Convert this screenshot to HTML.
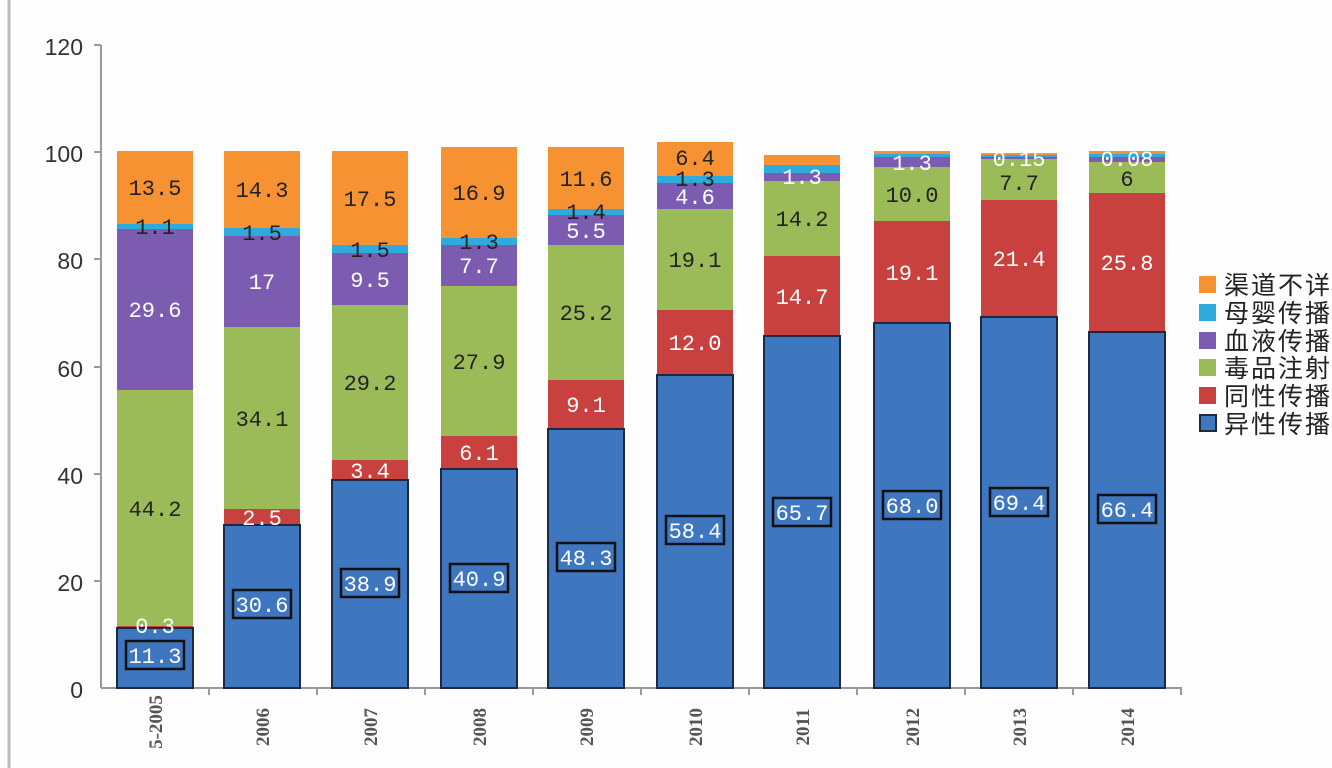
<!DOCTYPE html><html><head><meta charset="utf-8"><style>body{margin:0;background:#fff}svg{display:block}</style></head><body>
<svg width="1332" height="768" xmlns="http://www.w3.org/2000/svg" font-family="'Liberation Mono','Noto Sans CJK SC',monospace">
<rect width="1332" height="768" fill="#fdfdfd"/>
<line x1="9" y1="0" x2="9" y2="768" stroke="#bbb" stroke-width="3"/>
<g font-family="'Liberation Sans',sans-serif" font-size="23" fill="#333" text-anchor="end">
<text x="83" y="55">120</text><text x="83" y="162">100</text><text x="83" y="269">80</text><text x="83" y="377">60</text><text x="83" y="484">40</text><text x="83" y="591">20</text><text x="83" y="698">0</text>
</g>
<g stroke="#999" stroke-width="2">
<line x1="101" y1="45" x2="101" y2="688"/>
<line x1="94" y1="45" x2="101" y2="45"/><line x1="94" y1="152" x2="101" y2="152"/><line x1="94" y1="259" x2="101" y2="259"/><line x1="94" y1="367" x2="101" y2="367"/><line x1="94" y1="474" x2="101" y2="474"/><line x1="94" y1="581" x2="101" y2="581"/>
<line x1="101" y1="688" x2="1182" y2="688"/>
<line x1="209" y1="688" x2="209" y2="695"/><line x1="317" y1="688" x2="317" y2="695"/><line x1="425" y1="688" x2="425" y2="695"/><line x1="533" y1="688" x2="533" y2="695"/><line x1="641" y1="688" x2="641" y2="695"/><line x1="749" y1="688" x2="749" y2="695"/><line x1="857" y1="688" x2="857" y2="695"/><line x1="965" y1="688" x2="965" y2="695"/><line x1="1073" y1="688" x2="1073" y2="695"/><line x1="1181" y1="688" x2="1181" y2="695"/>
</g>
<g>
<rect x="117" y="151" width="76" height="73" fill="#f79232"/><rect x="117" y="224" width="76" height="5" fill="#2eaadc"/><rect x="117" y="229" width="76" height="161" fill="#7b5cb0"/><rect x="117" y="390" width="76" height="236" fill="#9bbb59"/><rect x="117" y="626" width="76" height="2" fill="#c9413e"/><rect x="117" y="628" width="76" height="60" fill="#3f76c0" stroke="#1b2a40" stroke-width="2"/>
<rect x="224" y="151" width="76" height="77" fill="#f79232"/><rect x="224" y="228" width="76" height="8" fill="#2eaadc"/><rect x="224" y="236" width="76" height="91" fill="#7b5cb0"/><rect x="224" y="327" width="76" height="182" fill="#9bbb59"/><rect x="224" y="509" width="76" height="16" fill="#c9413e"/><rect x="224" y="525" width="76" height="163" fill="#3f76c0" stroke="#1b2a40" stroke-width="2"/>
<rect x="332" y="151" width="76" height="94" fill="#f79232"/><rect x="332" y="245" width="76" height="8" fill="#2eaadc"/><rect x="332" y="253" width="76" height="52" fill="#7b5cb0"/><rect x="332" y="305" width="76" height="155" fill="#9bbb59"/><rect x="332" y="460" width="76" height="20" fill="#c9413e"/><rect x="332" y="480" width="76" height="208" fill="#3f76c0" stroke="#1b2a40" stroke-width="2"/>
<rect x="441" y="147" width="76" height="91" fill="#f79232"/><rect x="441" y="238" width="76" height="7" fill="#2eaadc"/><rect x="441" y="245" width="76" height="41" fill="#7b5cb0"/><rect x="441" y="286" width="76" height="150" fill="#9bbb59"/><rect x="441" y="436" width="76" height="33" fill="#c9413e"/><rect x="441" y="469" width="76" height="219" fill="#3f76c0" stroke="#1b2a40" stroke-width="2"/>
<rect x="548" y="147" width="76" height="62" fill="#f79232"/><rect x="548" y="209" width="76" height="6" fill="#2eaadc"/><rect x="548" y="215" width="76" height="30" fill="#7b5cb0"/><rect x="548" y="245" width="76" height="135" fill="#9bbb59"/><rect x="548" y="380" width="76" height="49" fill="#c9413e"/><rect x="548" y="429" width="76" height="259" fill="#3f76c0" stroke="#1b2a40" stroke-width="2"/>
<rect x="657" y="142" width="76" height="34" fill="#f79232"/><rect x="657" y="176" width="76" height="7" fill="#2eaadc"/><rect x="657" y="183" width="76" height="26" fill="#7b5cb0"/><rect x="657" y="209" width="76" height="101" fill="#9bbb59"/><rect x="657" y="310" width="76" height="65" fill="#c9413e"/><rect x="657" y="375" width="76" height="313" fill="#3f76c0" stroke="#1b2a40" stroke-width="2"/>
<rect x="764" y="155" width="76" height="10" fill="#f79232"/><rect x="764" y="165" width="76" height="8" fill="#2eaadc"/><rect x="764" y="173" width="76" height="8" fill="#7b5cb0"/><rect x="764" y="181" width="76" height="75" fill="#9bbb59"/><rect x="764" y="256" width="76" height="80" fill="#c9413e"/><rect x="764" y="336" width="76" height="352" fill="#3f76c0" stroke="#1b2a40" stroke-width="2"/>
<rect x="874" y="151" width="76" height="3" fill="#f79232"/><rect x="874" y="154" width="76" height="3" fill="#2eaadc"/><rect x="874" y="157" width="76" height="10" fill="#7b5cb0"/><rect x="874" y="167" width="76" height="54" fill="#9bbb59"/><rect x="874" y="221" width="76" height="102" fill="#c9413e"/><rect x="874" y="323" width="76" height="365" fill="#3f76c0" stroke="#1b2a40" stroke-width="2"/>
<rect x="981" y="153" width="76" height="2" fill="#f79232"/><rect x="981" y="155" width="76" height="2" fill="#2eaadc"/><rect x="981" y="157" width="76" height="2" fill="#7b5cb0"/><rect x="981" y="159" width="76" height="41" fill="#9bbb59"/><rect x="981" y="200" width="76" height="117" fill="#c9413e"/><rect x="981" y="317" width="76" height="371" fill="#3f76c0" stroke="#1b2a40" stroke-width="2"/>
<rect x="1089" y="151" width="76" height="3" fill="#f79232"/><rect x="1089" y="154" width="76" height="3" fill="#2eaadc"/><rect x="1089" y="157" width="76" height="5" fill="#7b5cb0"/><rect x="1089" y="162" width="76" height="31" fill="#9bbb59"/><rect x="1089" y="193" width="76" height="139" fill="#c9413e"/><rect x="1089" y="332" width="76" height="356" fill="#3f76c0" stroke="#1b2a40" stroke-width="2"/>
</g>
<g fill="none" stroke="#111" stroke-width="2.5">
<rect x="126" y="641" width="58" height="28"/><rect x="233" y="590" width="58" height="28"/><rect x="341" y="569" width="58" height="28"/><rect x="450" y="564" width="58" height="28"/><rect x="557" y="543" width="58" height="28"/><rect x="666" y="516" width="58" height="28"/><rect x="773" y="498" width="58" height="28"/><rect x="883" y="491" width="58" height="28"/><rect x="990" y="488" width="58" height="28"/><rect x="1098" y="495" width="58" height="28"/>
</g>
<g font-size="22" text-anchor="middle" fill="#fff">
<text x="155" y="663">11.3</text><text x="262" y="612">30.6</text><text x="370" y="591">38.9</text><text x="479" y="586">40.9</text><text x="586" y="565">48.3</text><text x="695" y="538">58.4</text><text x="802" y="520">65.7</text><text x="912" y="513">68.0</text><text x="1019" y="510">69.4</text><text x="1127" y="517">66.4</text>
<text x="155" y="633">0.3</text><text x="262" y="525">2.5</text><text x="370" y="478">3.4</text><text x="479" y="460">6.1</text><text x="586" y="412">9.1</text><text x="695" y="350">12.0</text><text x="802" y="304">14.7</text><text x="912" y="280">19.1</text><text x="1019" y="266">21.4</text><text x="1127" y="270">25.8</text>
<text x="155" y="317">29.6</text><text x="262" y="289">17</text><text x="370" y="287">9.5</text><text x="479" y="273">7.7</text><text x="586" y="238">5.5</text><text x="695" y="204">4.6</text>
<text x="802" y="184">1.3</text><text x="912" y="170">1.3</text><text x="1019" y="166">0.15</text><text x="1127" y="166">0.08</text>
</g>
<g font-size="22" text-anchor="middle" fill="#222">
<text x="155" y="516">44.2</text><text x="262" y="426">34.1</text><text x="370" y="390">29.2</text><text x="479" y="369">27.9</text><text x="586" y="320">25.2</text><text x="695" y="267">19.1</text><text x="802" y="226">14.2</text><text x="912" y="202">10.0</text><text x="1019" y="190">7.7</text><text x="1127" y="186">6</text>
<text x="155" y="234">1.1</text><text x="262" y="240">1.5</text><text x="370" y="257">1.5</text><text x="479" y="249">1.3</text><text x="586" y="219">1.4</text><text x="695" y="186">1.3</text>
<text x="155" y="195">13.5</text><text x="262" y="197">14.3</text><text x="370" y="206">17.5</text><text x="479" y="200">16.9</text><text x="586" y="186">11.6</text><text x="695" y="165">6.4</text>
</g>
<g font-family="'Liberation Serif',serif" font-size="19" font-weight="bold" fill="#555" text-anchor="middle">
<text transform="translate(162,722) rotate(-90)">5-2005</text>
<text transform="translate(269,727) rotate(-90)">2006</text>
<text transform="translate(377,727) rotate(-90)">2007</text>
<text transform="translate(486,727) rotate(-90)">2008</text>
<text transform="translate(593,727) rotate(-90)">2009</text>
<text transform="translate(702,727) rotate(-90)">2010</text>
<text transform="translate(809,727) rotate(-90)">2011</text>
<text transform="translate(919,727) rotate(-90)">2012</text>
<text transform="translate(1026,727) rotate(-90)">2013</text>
<text transform="translate(1134,727) rotate(-90)">2014</text>
</g>
<g font-family="'Liberation Sans','Noto Sans CJK SC',sans-serif" font-size="25" fill="#222" letter-spacing="2">
<rect x="1199" y="276" width="17" height="17" fill="#f79232"/><text x="1224" y="294">渠道不详</text>
<rect x="1199" y="304" width="17" height="17" fill="#2eaadc"/><text x="1224" y="322">母婴传播</text>
<rect x="1199" y="332" width="17" height="17" fill="#7b5cb0"/><text x="1224" y="350">血液传播</text>
<rect x="1199" y="359" width="17" height="17" fill="#9bbb59"/><text x="1224" y="377">毒品注射</text>
<rect x="1199" y="387" width="17" height="17" fill="#c9413e"/><text x="1224" y="405">同性传播</text>
<rect x="1200" y="415" width="16" height="16" fill="#3f76c0" stroke="#1b2a40" stroke-width="2"/><text x="1224" y="433">异性传播</text>
</g>
</svg></body></html>
